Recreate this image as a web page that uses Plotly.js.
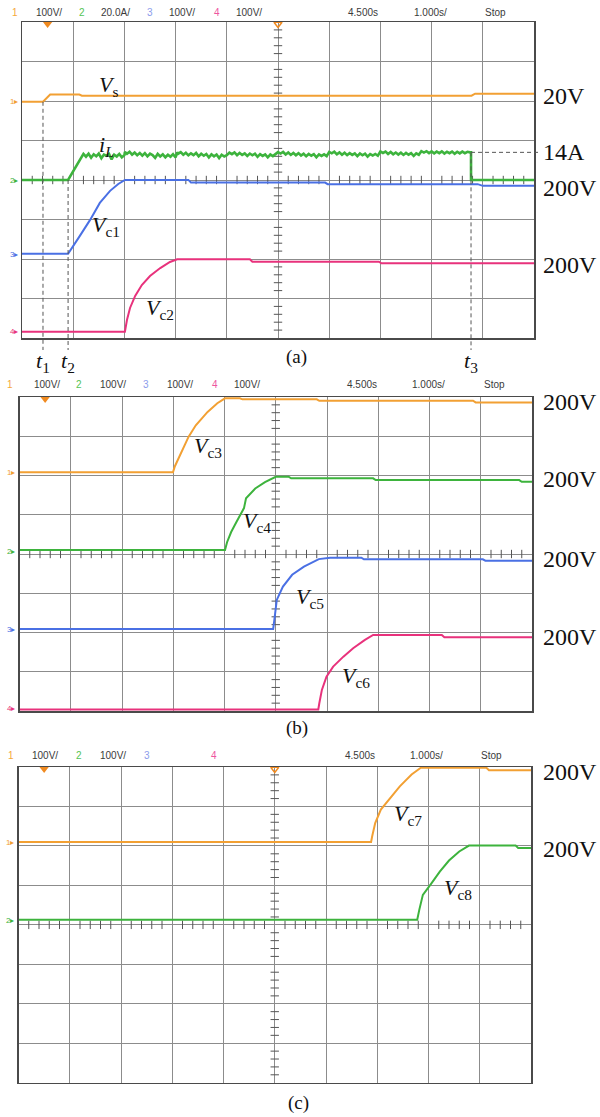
<!DOCTYPE html>
<html><head><meta charset="utf-8">
<script src="https://cdn.plot.ly/plotly-3.0.1.min.js"></script>
<style>html,body{margin:0;padding:0;background:#fff}#chart{width:600px;height:1117px}</style>
</head><body><div id="chart"></div>
<script>
// ================= DATA (time in s, 1.000 s/div; values in V or A) =================
const t1 = 0.41, t2 = 0.90, t3 = 8.77;
const iLMark = 14;            // A, dashed reference level

// ---- panel (a) ----
const vsTime  = [0, 0.41, 0.55, 1.12, 1.17, 8.78, 8.85, 10];
const vsVolt  = [0, 0, 18.5, 18.5, 15.5, 15.5, 20.5, 20.5];

const iLTime = [0, 0.90, 1.20,
  1.25,1.30,1.35,1.40,1.45,1.50,1.55,1.60,1.65,1.70,1.75,1.80,1.85,1.90,1.95,2.00,
  2.01,2.05,2.10,2.15,2.20,2.25,2.30,2.35,2.40,2.45,2.50,2.55,2.60,2.65,2.70,2.75,2.80,2.85,2.90,2.95,3.00,
  3.03,3.05,3.10,3.15,3.20,3.25,3.30,3.35,3.40,3.45,3.50,3.55,3.60,3.65,3.70,3.75,3.80,3.85,3.90,3.95,4.00,
  4.05,4.10,4.15,4.20,4.25,4.30,4.35,4.40,4.45,4.50,4.55,4.60,4.65,4.70,4.75,4.80,4.85,4.90,4.95,
  5.00,5.05,5.10,5.15,5.20,5.25,5.30,5.35,5.40,5.45,5.50,5.55,5.60,5.65,5.70,5.75,5.80,5.85,5.90,5.95,
  6.00,6.05,6.10,6.15,6.20,6.25,6.30,6.35,6.40,6.45,6.50,6.55,6.60,6.65,6.70,6.75,6.80,6.85,6.90,6.95,
  7.00,7.05,7.10,7.15,7.20,7.25,7.30,7.35,7.40,7.45,7.50,7.55,7.60,7.65,7.70,7.75,
  7.80,7.85,7.90,7.95,8.00,8.05,8.10,8.15,8.20,8.25,8.30,8.35,8.40,8.45,8.50,8.55,8.60,8.65,8.70,8.75,
  8.77, 8.77, 10];
const iLAmp = [0, 0, 13.2,
  11.8,13.3,11.3,13.0,12.0,13.4,11.0,12.9,12.3,13.2,10.4,12.8,11.9,13.2,11.5,12.6,
  14.2,13.3,14.3,12.8,13.9,12.6,13.7,12.3,13.6,12.0,13.3,12.6,11.2,13.2,11.9,13.0,11.5,12.8,11.8,13.1,11.4,
  14.0,13.3,14.1,12.8,13.8,12.5,13.5,12.6,13.7,12.0,13.3,12.3,13.2,11.4,13.0,12.0,12.9,11.1,12.8,11.9,12.6,
  13.9,13.1,14.0,12.6,13.7,12.7,13.5,12.2,13.4,12.5,13.3,11.7,13.1,12.2,13.0,11.5,12.9,12.1,13.0,
  14.1,13.4,14.2,12.9,13.9,12.7,13.7,12.5,13.6,12.4,13.3,12.0,13.2,12.3,13.1,11.5,13.0,12.2,13.0,12.1,
  14.2,13.5,14.3,13.0,14.0,12.8,13.8,12.6,13.6,12.7,13.5,12.1,13.4,12.5,13.3,11.8,13.1,12.4,13.2,12.3,
  14.4,13.7,14.4,13.2,14.2,13.0,13.9,12.9,13.8,12.7,13.7,12.8,13.6,12.2,13.5,12.8,
  14.6,13.9,14.6,13.6,14.5,13.5,14.4,13.6,14.5,13.4,14.3,13.6,14.4,13.3,14.3,13.5,14.4,13.6,14.3,14.0,
  14.0, 0, 0];

const vc1Time = [0, 0.90, 1.13, 1.33, 1.52, 1.72, 1.88, 2.01, 3.25, 3.30, 5.92, 5.97, 8.90, 9.00, 10];
const vc1Volt = [0, 0, 45.6, 86, 129, 159.5, 177, 187.3, 187.3, 180.5, 180.5, 176.5, 176.5, 172.2, 172.2];

const vc2Time = [0, 2.01, 2.05, 2.11, 2.21, 2.34, 2.50, 2.70, 2.89, 3.03, 4.45, 4.50, 6.97, 7.02, 10];
const vc2Volt = [0, 0, 29.6, 60, 90.4, 118, 141, 161, 176.5, 183.3, 183.3, 177, 177, 173, 173];

// ---- panel (b) ----
const vc3Time = [0, 2.995, 3.03, 3.15, 3.30, 3.44, 3.67, 3.86, 4.01, 4.30, 4.35, 5.80, 5.85, 8.85, 8.90, 10];
const vc3Volt = [0, 0, 15, 49, 91, 120, 154, 176, 188.5, 188.5, 186, 186, 182.4, 182.4, 178.3, 178.3];

const vc4Time = [0, 4.01, 4.05, 4.13, 4.23, 4.38, 4.42, 4.60, 4.79, 5.00, 5.25, 5.30, 6.90, 6.95, 9.75, 9.80, 10];
const vc4Volt = [0, 0, 20, 46, 71, 107, 132, 157, 173, 186.8, 186.8, 182.7, 182.7, 178.3, 178.3, 174, 174];

const vc5Time = [0, 4.95, 4.97, 4.99, 5.02, 5.14, 5.32, 5.55, 5.84, 6.06, 6.67, 6.72, 9.04, 9.09, 10];
const vc5Volt = [0, 0, 20, 41, 74, 108, 138, 159, 178, 181.7, 181.7, 177.6, 177.6, 174, 174];

const vc6Time = [0, 5.83, 5.85, 5.90, 5.99, 6.12, 6.32, 6.51, 6.74, 6.90, 8.24, 8.29, 10];
const vc6Volt = [0, 0, 15.8, 49.7, 83.6, 109, 134.5, 156, 177, 189.8, 189.8, 184, 184];

// ---- panel (c) ----
const vc7Time = [0, 6.88, 6.90, 6.96, 7.07, 7.22, 7.44, 7.67, 7.85, 9.13, 9.18, 10];
const vc7Volt = [0, 0, 14, 48, 82, 107, 141, 171, 188, 188, 182, 182];

const vc8Time = [0, 7.78, 7.82, 7.89, 8.05, 8.22, 8.40, 8.60, 8.79, 9.70, 9.75, 10];
const vc8Volt = [0, 0, 25, 63, 91, 122, 150, 173, 188, 188, 182, 182];

// channel scales (per div) and ground levels (div from bottom)
const scaleA = [100, 20, 100, 100];
const groundA = [5.98, 4.0, 2.13, 0.16];
const scaleB = [100, 100, 100, 100];
const groundB = [6.08, 4.10, 2.09, 0.04];
const scaleC = [100, 100];
const groundC = [6.10, 4.13];

// header texts
const headerA = ['100V/', '20.0A/', '100V/', '100V/'];
const headerB = ['100V/', '100V/', '100V/', '100V/'];
const headerC = ['100V/', '100V/', '', ''];
const timeLabels = ['4.500s', '1.000s/', 'Stop'];

// ================= STYLE / LAYOUT =================
const W = 600, H = 1117;
const ORANGE = '#F2A033', GREEN = '#3DB33D', BLUE = '#4A70E4', PINK = '#E8327C';
const hdrNumColors = ['#F5A83A', '#55C455', '#8C9CEB', '#EE55A0'];
const px = x => x / W, py = y => 1 - y / H;

const box = {
  a: {x0: 22, x1: 534, y0: 22, y1: 338},
  b: {x0: 19.5, x1: 532, y0: 397, y1: 711},
  c: {x0: 18.5, x1: 531, y0: 767, y1: 1082.7}
};

function xax(b, anchor) {
  return {domain: [px(b.x0), px(b.x1)], range: [0, 10], dtick: 1, tick0: 0, showgrid: true,
    gridcolor: '#8c8c8c', gridwidth: 1, showline: true, mirror: true, linecolor: '#4a4a4a', linewidth: 1.5,
    zeroline: false, showticklabels: false, ticks: '', anchor: anchor, fixedrange: true};
}
function yax(b, anchor) {
  return {domain: [py(b.y1), py(b.y0)], range: [0, 8], dtick: 1, tick0: 0, showgrid: true,
    gridcolor: '#8c8c8c', gridwidth: 1, showline: true, mirror: true, linecolor: '#4a4a4a', linewidth: 1.5,
    zeroline: false, showticklabels: false, ticks: '', anchor: anchor, fixedrange: true};
}

function tr(xs, vals, scale, ground, color, xa, ya, w) {
  return {x: xs, y: vals.map(v => ground + v / scale), type: 'scatter', mode: 'lines',
    line: {color: color, width: w || 2}, xaxis: xa, yaxis: ya, hoverinfo: 'skip', showlegend: false};
}

function ticks(xa, ya) {
  const vx = [], vy = [], hx = [], hy = [];
  for (let k = 1; k < 40; k++) if (k % 5) { vx.push(5); vy.push(k * 0.2); }
  for (let k = 1; k < 50; k++) if (k % 5) { hx.push(k * 0.2); hy.push(4); }
  return [
    {x: vx, y: vy, mode: 'markers', type: 'scatter', xaxis: xa, yaxis: ya, hoverinfo: 'skip', showlegend: false,
      marker: {symbol: 'line-ew', size: 6, color: '#555', line: {color: '#555', width: 1}}},
    {x: hx, y: hy, mode: 'markers', type: 'scatter', xaxis: xa, yaxis: ya, hoverinfo: 'skip', showlegend: false,
      marker: {symbol: 'line-ns', size: 6, color: '#555', line: {color: '#555', width: 1}}}
  ];
}
function trig(xa, ya, center) {
  const out = [{x: [0.5], y: [7.95], mode: 'markers', type: 'scatter', xaxis: xa, yaxis: ya, cliponaxis: false,
    hoverinfo: 'skip', showlegend: false, marker: {symbol: 'triangle-down', size: 8, color: '#F08A20'}}];
  if (center) out.push({x: [5], y: [7.95], mode: 'markers', type: 'scatter', xaxis: xa, yaxis: ya, cliponaxis: false,
    hoverinfo: 'skip', showlegend: false, marker: {symbol: 'triangle-down-open', size: 7, color: '#F08A20', line: {width: 1.5}}});
  return out;
}

const traces = [
  ...ticks('x', 'y'), ...ticks('x2', 'y2'), ...ticks('x3', 'y3'),
  tr(vc2Time, vc2Volt, scaleA[3], groundA[3], PINK, 'x', 'y'),
  tr(vc1Time, vc1Volt, scaleA[2], groundA[2], BLUE, 'x', 'y'),
  tr(iLTime, iLAmp, scaleA[1], groundA[1], GREEN, 'x', 'y', 2.6),
  tr(vsTime, vsVolt, scaleA[0], groundA[0], ORANGE, 'x', 'y'),
  tr(vc6Time, vc6Volt, scaleB[3], groundB[3], PINK, 'x2', 'y2'),
  tr(vc5Time, vc5Volt, scaleB[2], groundB[2], BLUE, 'x2', 'y2'),
  tr(vc4Time, vc4Volt, scaleB[1], groundB[1], GREEN, 'x2', 'y2'),
  tr(vc3Time, vc3Volt, scaleB[0], groundB[0], ORANGE, 'x2', 'y2'),
  tr(vc8Time, vc8Volt, scaleC[1], groundC[1], GREEN, 'x3', 'y3'),
  tr(vc7Time, vc7Volt, scaleC[0], groundC[0], ORANGE, 'x3', 'y3'),
  ...trig('x', 'y', true), ...trig('x2', 'y2', false), ...trig('x3', 'y3', true)
];

// ---------- annotations ----------
const ann = [];
const SERIF = '"Liberation Serif", "Times New Roman", serif';
const SANS = '"Liberation Sans", Arial, sans-serif';
function txt(text, x, y, size, opts) {
  ann.push(Object.assign({text: text, x: px(x), y: py(y), xref: 'paper', yref: 'paper', showarrow: false,
    xanchor: 'center', yanchor: 'middle', font: {family: SERIF, size: size, color: '#111'}}, opts || {}));
}
// headers
function header(yc, vals, numX, valX, timeX) {
  for (let i = 0; i < 4; i++) {
    txt(String(i + 1), numX[i], yc, 10, {font: {family: SANS, size: 10, color: hdrNumColors[i]}});
    if (vals[i]) txt(vals[i], valX[i], yc, 10, {font: {family: SANS, size: 10, color: '#3a3a3a'}});
  }
  timeLabels.forEach((s, i) => txt(s, timeX[i], yc, 10, {font: {family: SANS, size: 10, color: '#3a3a3a'}}));
}
header(12.5, headerA, [14.6, 82, 150, 217], [48.7, 115, 181.7, 248.7], [363, 430, 495]);
header(385, headerB, [10, 79, 146, 215], [47, 112.5, 180, 247], [361.5, 428, 494]);
header(755, headerC, [11, 79, 147.3, 213.5], [45, 112.5, 0, 0], [360, 426, 492]);

// channel ground markers on the left
function gmark(n, x, yPix, color) {
  txt(n + '▸', x, yPix, 8, {font: {family: SANS, size: 8, color: color}});
}
gmark(1, 14, 101.7, ORANGE); gmark(2, 14, 180, GREEN); gmark(3, 14, 254, BLUE); gmark(4, 14, 331, PINK);
gmark(1, 11, 472.5, ORANGE); gmark(2, 11, 551, GREEN); gmark(3, 11, 629, BLUE); gmark(4, 11, 708, PINK);
gmark(1, 10, 842.5, ORANGE); gmark(2, 10, 920, GREEN);

// right-hand labels
const RL = 541;
[['20V', 96], ['14A', 152.3], ['200V', 188], ['200V', 265],
 ['200V', 402], ['200V', 479], ['200V', 558.5], ['200V', 636.5],
 ['200V', 772], ['200V', 849]].forEach(([s, y]) => txt(s, RL, y, 24, {xanchor: 'left'}));

// trace labels
const lab = (v, sub) => '<i>' + v + '</i><sub>' + sub + '</sub>';
txt(lab('V', 's'), 97, 86, 22, {xanchor: 'left'});
txt('<i>i<sub>L</sub></i>', 97, 146, 22, {xanchor: 'left'});
txt(lab('V', 'c1'), 90, 226, 22, {xanchor: 'left'});
txt(lab('V', 'c2'), 144, 309, 22, {xanchor: 'left'});
txt(lab('V', 'c3'), 192, 447, 22, {xanchor: 'left'});
txt(lab('V', 'c4'), 241, 522, 22, {xanchor: 'left'});
txt(lab('V', 'c5'), 294, 598, 22, {xanchor: 'left'});
txt(lab('V', 'c6'), 340, 677, 22, {xanchor: 'left'});
txt(lab('V', 'c7'), 392, 815, 22, {xanchor: 'left'});
txt(lab('V', 'c8'), 442, 889, 22, {xanchor: 'left'});

// time markers & panel captions
const tx = t => box.a.x0 + t / 10 * (box.a.x1 - box.a.x0);
txt('<i>t</i><sub>1</sub>', tx(t1), 362, 22);
txt('<i>t</i><sub>2</sub>', tx(t2), 362, 22);
txt('<i>t</i><sub>3</sub>', tx(t3), 362, 22);
txt('(a)', 296, 357, 19);
txt('(b)', 297, 728, 19);
txt('(c)', 298, 1103, 19);

// dashed guides
const yA = v => box.a.y1 - v * (box.a.y1 - box.a.y0) / 8;
const dash = {color: '#555', width: 1, dash: '4px,3px'};
const shapes = [
  {type: 'line', xref: 'paper', yref: 'paper', x0: px(tx(t1)), x1: px(tx(t1)), y0: py(yA(groundA[0])), y1: py(350), line: dash},
  {type: 'line', xref: 'paper', yref: 'paper', x0: px(tx(t2)), x1: px(tx(t2)), y0: py(yA(groundA[1])), y1: py(350), line: dash},
  {type: 'line', xref: 'paper', yref: 'paper', x0: px(tx(t3)), x1: px(tx(t3)), y0: py(yA(groundA[1] + iLMark / scaleA[1])), y1: py(350), line: dash},
  {type: 'line', xref: 'paper', yref: 'paper', x0: px(tx(t3)), x1: px(539), y0: py(yA(groundA[1] + iLMark / scaleA[1])), y1: py(yA(groundA[1] + iLMark / scaleA[1])), line: dash}
];

const layout = {
  width: W, height: H, margin: {l: 0, r: 0, t: 0, b: 0}, paper_bgcolor: '#fff', plot_bgcolor: '#fff',
  showlegend: false,
  xaxis: xax(box.a, 'y'), yaxis: yax(box.a, 'x'),
  xaxis2: xax(box.b, 'y2'), yaxis2: yax(box.b, 'x2'),
  xaxis3: xax(box.c, 'y3'), yaxis3: yax(box.c, 'x3'),
  annotations: ann, shapes: shapes
};
Plotly.newPlot('chart', traces, layout, {staticPlot: true, displayModeBar: false});
</script>
</body></html>
